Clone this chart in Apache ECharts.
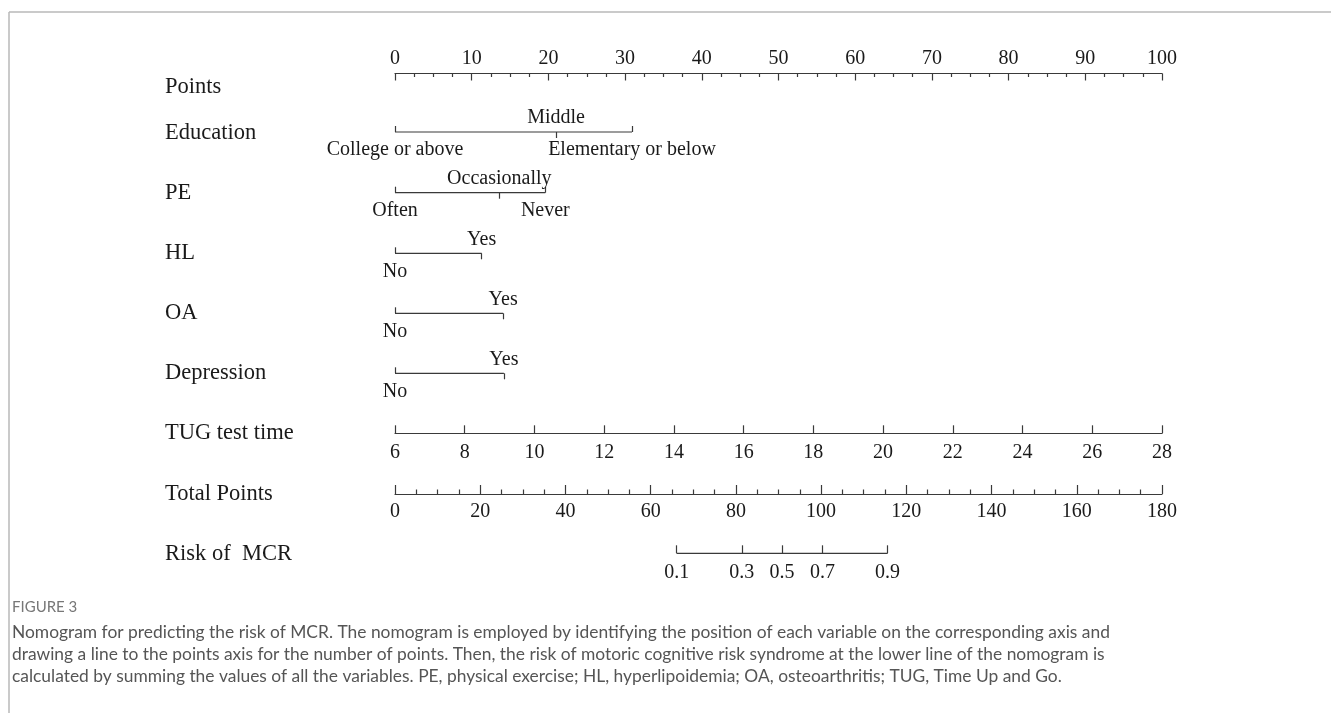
<!DOCTYPE html>
<html>
<head>
<meta charset="utf-8">
<script src="https://cdn.jsdelivr.net/npm/echarts@6/dist/echarts.min.js"></script>
<style>
html,body{margin:0;padding:0;background:#fff;}
#chart{width:1331px;height:713px;}
</style>
</head>
<body>
<div id="chart"></div>
<script>
// ---------------- data ----------------
const rowLabels = ['Points', 'Education', 'PE', 'HL', 'OA', 'Depression', 'TUG test time', 'Total Points', 'Risk of  MCR'];
const pointsMin = 0, pointsMax = 100, pointsInterval = 10;
const eduLevels = ['College or above', 'Middle', 'Elementary or below'];
const eduPoints = [0, 21.0, 30.9];
const peLevels = ['Often', 'Occasionally', 'Never'];
const pePoints = [0, 13.6, 19.6];
const hlLevels = ['No', 'Yes'];
const hlPoints = [0, 11.3];
const oaLevels = ['No', 'Yes'];
const oaPoints = [0, 14.1];
const depLevels = ['No', 'Yes'];
const depPoints = [0, 14.2];
const tugMin = 6, tugMax = 28, tugInterval = 2;
const totalMin = 0, totalMax = 180, totalInterval = 20;
const riskLabels = ['0.1', '0.3', '0.5', '0.7', '0.9'];
const riskTotalPoints = [66.1, 81.4, 90.8, 100.3, 115.6];
const captionTitle = 'FIGURE 3';
const captionLines = [
  'Nomogram for predicting the risk of MCR. The nomogram is employed by identifying the position of each variable on the corresponding axis and',
  'drawing a line to the points axis for the number of points. Then, the risk of motoric cognitive risk syndrome at the lower line of the nomogram is',
  'calculated by summing the values of all the variables. PE, physical exercise; HL, hyperlipoidemia; OA, osteoarthritis; TUG, Time Up and Go.'
];

// ---------------- layout ----------------
const AX_LEFT = 395, AX_WIDTH = 767;
const rowLineY = [73.5, 132, 192.7, 253.3, 313.3, 373.3, 433.3, 494, 553.3];
const rowLabelY = [88, 134, 194, 254, 314, 374, 434, 495, 555];
const LINE_COLOR = '#3a3a3a';
const TEXT_COLOR = '#1a1a1a';
const SERIF = '"Liberation Serif", "DejaVu Serif", serif';
const lineStyle = { color: LINE_COLOR, width: 1.2 };
const labelBase = { fontFamily: SERIF, fontSize: 20, color: TEXT_COLOR };

const grids = [], xAxes = [], yAxes = [], series = [];

function addGrid(y) {
  grids.push({ left: AX_LEFT, width: AX_WIDTH, top: y, height: 0 });
  const gi = grids.length - 1;
  yAxes.push({ gridIndex: gi, type: 'value', min: -1, max: 1, show: false });
  return gi;
}

// Points axis
(function () {
  const gi = addGrid(rowLineY[0]);
  xAxes.push({
    gridIndex: gi, type: 'value', position: 'top', min: pointsMin, max: pointsMax, interval: pointsInterval,
    axisLine: { show: true, lineStyle },
    axisTick: { show: true, inside: true, length: 7, lineStyle },
    minorTick: { show: true, splitNumber: 4, length: 3.5, lineStyle },
    splitLine: { show: false }, minorSplitLine: { show: false },
    axisLabel: Object.assign({ margin: 5 }, labelBase)
  });
})();

// Categorical variable rows
function addCategorical(row, levels, pts) {
  const gi = addGrid(rowLineY[row]);
  const below = [], above = [];
  pts.forEach((p, i) => (i % 2 === 0 ? below : above).push(p));
  const fmt = v => {
    let best = 0;
    pts.forEach((p, i) => { if (Math.abs(p - v) < Math.abs(pts[best] - v)) best = i; });
    return levels[best];
  };
  const common = {
    gridIndex: gi, type: 'value', min: pointsMin, max: pointsMax,
    axisLine: { show: false }, splitLine: { show: false }
  };
  xAxes.push(Object.assign({}, common, {
    position: 'bottom',
    axisTick: { show: true, inside: true, length: 6, lineStyle, customValues: below },
    axisLabel: Object.assign({ margin: 8, customValues: below, formatter: fmt, showMinLabel: true, showMaxLabel: true }, labelBase)
  }));
  const botIdx = xAxes.length - 1;
  xAxes.push(Object.assign({}, common, {
    position: 'top',
    axisTick: { show: true, inside: true, length: 6, lineStyle, customValues: above },
    axisLabel: Object.assign({ margin: 4, customValues: above, formatter: fmt, showMinLabel: true, showMaxLabel: true }, labelBase)
  }));
  series.push({
    type: 'line', xAxisIndex: botIdx, yAxisIndex: yAxes.length - 1,
    data: [[Math.min(...pts), 0], [Math.max(...pts), 0]],
    symbol: 'none', clip: false, silent: true, lineStyle
  });
}
addCategorical(1, eduLevels, eduPoints);
addCategorical(2, peLevels, pePoints);
addCategorical(3, hlLevels, hlPoints);
addCategorical(4, oaLevels, oaPoints);
addCategorical(5, depLevels, depPoints);

// TUG axis
(function () {
  const gi = addGrid(rowLineY[6]);
  xAxes.push({
    gridIndex: gi, type: 'value', position: 'bottom', min: tugMin, max: tugMax, interval: tugInterval,
    axisLine: { show: true, lineStyle },
    axisTick: { show: true, inside: true, length: 8, lineStyle },
    splitLine: { show: false },
    axisLabel: Object.assign({ margin: 9 }, labelBase)
  });
})();

// Total points axis
(function () {
  const gi = addGrid(rowLineY[7]);
  xAxes.push({
    gridIndex: gi, type: 'value', position: 'bottom', min: totalMin, max: totalMax, interval: totalInterval,
    axisLine: { show: true, lineStyle },
    axisTick: { show: true, inside: true, length: 9, lineStyle },
    minorTick: { show: true, splitNumber: 4, length: 4.5, lineStyle },
    splitLine: { show: false }, minorSplitLine: { show: false },
    axisLabel: Object.assign({ margin: 8 }, labelBase)
  });
})();

// Risk axis (positioned on the total-points scale)
(function () {
  const gi = addGrid(rowLineY[8]);
  const fmt = v => {
    let best = 0;
    riskTotalPoints.forEach((p, i) => { if (Math.abs(p - v) < Math.abs(riskTotalPoints[best] - v)) best = i; });
    return riskLabels[best];
  };
  xAxes.push({
    gridIndex: gi, type: 'value', position: 'bottom', min: totalMin, max: totalMax,
    axisLine: { show: false }, splitLine: { show: false },
    axisTick: { show: true, inside: true, length: 8, lineStyle, customValues: riskTotalPoints },
    axisLabel: Object.assign({ margin: 9, customValues: riskTotalPoints, formatter: fmt }, labelBase)
  });
  series.push({
    type: 'line', xAxisIndex: xAxes.length - 1, yAxisIndex: yAxes.length - 1,
    data: [[riskTotalPoints[0], 0], [riskTotalPoints[riskTotalPoints.length - 1], 0]],
    symbol: 'none', clip: false, silent: true, lineStyle
  });
})();

// ---------------- graphics: row labels, caption, frame ----------------
const graphic = [];
graphic.push({ type: 'line', shape: { x1: 9, y1: 12, x2: 1331, y2: 12 }, style: { stroke: '#b8b8b8', lineWidth: 1.5 }, silent: true });
graphic.push({ type: 'line', shape: { x1: 9, y1: 12, x2: 9, y2: 713 }, style: { stroke: '#b8b8b8', lineWidth: 1.5 }, silent: true });
rowLabels.forEach((t, i) => {
  graphic.push({
    type: 'text', left: 165, top: rowLabelY[i] - 12, silent: true,
    style: { text: t, font: '22.5px ' + SERIF, fill: TEXT_COLOR, textVerticalAlign: 'top' }
  });
});
graphic.push({
  type: 'text', left: 12, top: 600, silent: true,
  style: { text: captionTitle, font: '15px Lato, "Open Sans", sans-serif', fill: '#777' }
});
captionLines.forEach((t, i) => {
  graphic.push({
    type: 'text', left: 12, top: 624 + i * 22, silent: true,
    style: { text: t, font: '17.4px Lato, "Open Sans", sans-serif', fill: '#555' }
  });
});

const chart = echarts.init(document.getElementById('chart'), null, { renderer: 'canvas' });
chart.setOption({
  animation: false,
  backgroundColor: '#ffffff',
  grid: grids,
  xAxis: xAxes,
  yAxis: yAxes,
  series: series,
  graphic: graphic
});
</script>
</body>
</html>
